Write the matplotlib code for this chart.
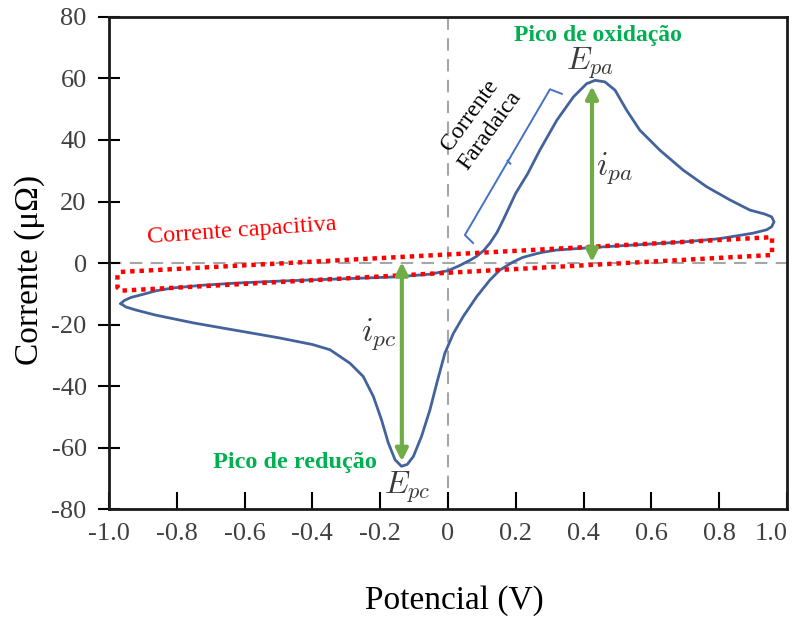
import matplotlib
matplotlib.use('Agg')
import matplotlib.pyplot as plt
from matplotlib.transforms import ScaledTranslation

plt.rcParams['font.family'] = ['Liberation Serif', 'DejaVu Serif']
plt.rcParams['mathtext.fontset'] = 'cm'
plt.rcParams['axes.unicode_minus'] = False

# cyclic voltammogram (forward scan then reverse scan)
pot = [-0.965, -0.955, -0.935, -0.90, -0.86, -0.81, -0.72, -0.62, -0.50, -0.35,
       -0.15, -0.05, -0.024, 0.0, 0.035, 0.065, 0.085, 0.105, 0.124, 0.145,
       0.163, 0.18, 0.20, 0.235, 0.271, 0.321, 0.37, 0.409, 0.434, 0.463,
       0.493, 0.527, 0.566, 0.625, 0.694, 0.763, 0.832, 0.891, 0.935, 0.955,
       0.962,
       0.955, 0.94, 0.90, 0.80, 0.70, 0.57, 0.42, 0.32, 0.28, 0.26,
       0.22, 0.19, 0.153, 0.124, 0.085, 0.045, 0.016, -0.009, -0.033, -0.053,
       -0.078, -0.102, -0.12, -0.137, -0.156, -0.176, -0.196, -0.22, -0.25, -0.289,
       -0.348, -0.40, -0.50, -0.62, -0.75, -0.864, -0.92, -0.95, -0.965]
cur = [-13.2, -12.2, -11.2, -10.2, -9.0, -8.1, -7.2, -6.5, -5.9, -5.3,
       -4.5, -3.6, -3.0, -2.5, -0.8, 0.9, 2.2, 4.0, 6.5, 10.0,
       14.0, 18.0, 22.7, 29.0, 36.7, 46.4, 54.0, 58.3, 59.4, 58.9,
       56.2, 49.7, 43.2, 36.7, 30.2, 24.8, 20.5, 17.2, 15.9, 15.0,
       13.4,
       11.8, 10.8, 9.7, 7.9, 6.9, 6.0, 5.0, 4.2, 3.5, 3.0,
       1.8, 0.2, -2.3, -5.5, -10.9, -17.4, -22.9, -29.3, -39.1, -47.7,
       -56.4, -62.9, -65.5, -66.1, -64.0, -58.5, -51.0, -43.4, -36.9, -32.6,
       -28.2, -26.5, -24.3, -22.0, -19.5, -16.9, -15.3, -14.3, -13.2]

# capacitive band (red dotted box)
cap_x = [-0.965, 0.956, 0.956, -0.965, -0.975, -0.975, -0.965]
cap_y = [-2.9, 8.4, 2.6, -9.0, -8.0, -3.9, -2.9]

# peaks
epa, ipa = 0.425, 57.5
epc, ipc = -0.136, -64.5
base_a, base_c = 0.3, 0.3

xticks = [-1.0, -0.8, -0.6, -0.4, -0.2, 0.0, 0.2, 0.4, 0.6, 0.8, 1.0]
xlabels = ['-1.0', '-0.8', '-0.6', '-0.4', '-0.2', '0', '0.2', '0.4', '0.6', '0.8', '1.0']
yticks = [-80, -60, -40, -20, 0, 20, 40, 60, 80]

fig = plt.figure(figsize=(8.03, 6.2), dpi=100)
ax = fig.add_axes([0.1357, 0.179, 0.8443, 0.7936])

ax.axvline(0, color='#A6A6A6', lw=1.5, dashes=(6, 4), zorder=1)
ax.axhline(0, color='#A6A6A6', lw=1.5, dashes=(6, 4), zorder=1)

ax.plot(pot, cur, color='#44639C', lw=2, zorder=3, solid_joinstyle='round')
ax.plot(cap_x, cap_y, color='#FF0000', lw=3.2, dashes=(1, 1.1), zorder=4)

green = '#70AD47'
ax.annotate('', xy=(epa, base_a), xytext=(epa, ipa),
            arrowprops=dict(arrowstyle='<|-|>', color=green, lw=3, mutation_scale=18,
                            shrinkA=0, shrinkB=0), zorder=5)
ax.annotate('', xy=(epc, base_c), xytext=(epc, ipc),
            arrowprops=dict(arrowstyle='<|-|>', color=green, lw=3, mutation_scale=18,
                            shrinkA=0, shrinkB=0), zorder=5)

# bracket for faradaic current
ax.plot([0.074, 0.05, 0.301, 0.336], [6.5, 9.1, 56.5, 55.0], color='#4472C4', lw=1.4)
ax.plot([0.176, 0.184], [33.3, 32.3], color='#4472C4', lw=1.4)

ax.text(0.442, 74, 'Pico de oxidação', color='#00B050', fontsize=17, fontweight='bold',
        ha='center', va='center')
ax.text(-0.451, -65, 'Pico de redução', color='#00B050', fontsize=17.5, fontweight='bold',
        ha='center', va='center')
ax.text(0.42, 65.0, r'$E_{pa}$', color='#3A3A3A', fontsize=23, ha='center', va='center')
ax.text(-0.121, -73.0, r'$E_{pc}$', color='#3A3A3A', fontsize=23, ha='center', va='center')
ax.text(0.49, 30.8, r'$i_{pa}$', color='#3A3A3A', fontsize=24, ha='center', va='center')
ax.text(-0.206, -23, r'$i_{pc}$', color='#3A3A3A', fontsize=24, ha='center', va='center')
ax.text(-0.608, 10.4, 'Corrente capacitiva', color='#FF0000', fontsize=17.5,
        rotation=4, ha='center', va='center')
ax.text(0.094, 45.5, 'Corrente\nFaradaica', color='black', fontsize=17,
        rotation=54, ha='center', va='center', linespacing=1.25)

ax.set_xlim(-1, 1)
ax.set_ylim(-80, 80)
ax.set_xticks(xticks)
ax.set_xticklabels(xlabels)
ax.set_yticks(yticks)
ax.tick_params(axis='x', direction='in', length=12, width=1.5, pad=10,
               labelsize=19, labelcolor='#404040')
ax.tick_params(axis='y', direction='inout', length=16, width=1.5, pad=8,
               labelsize=19, labelcolor='#404040')
for s in ax.spines.values():
    s.set_linewidth(2)
    s.set_color('#1A1A1A')

lab = ax.get_xticklabels()[-1]
lab.set_transform(lab.get_transform() + ScaledTranslation(-11 / 72, 0, fig.dpi_scale_trans))

ax.set_xlabel('Potencial (V)', fontsize=24)
ax.set_ylabel('Corrente (μΩ)', fontsize=24, va='center')
ax.xaxis.set_label_coords(0.51, -0.155)
ax.yaxis.set_label_coords(-0.117, 0.486)

fig.savefig('out.png', dpi=100)
